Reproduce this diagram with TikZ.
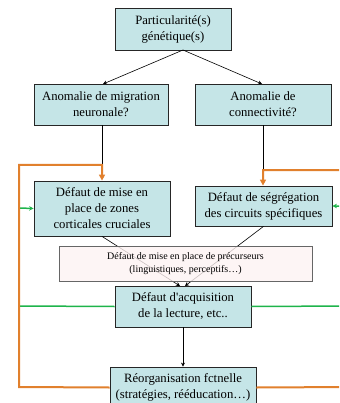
\documentclass[tikz,border=0pt]{standalone}
\usepackage{fontspec}
\setmainfont{Liberation Serif}
\usetikzlibrary{arrows.meta}
\definecolor{boxfill}{RGB}{197,229,231}
\definecolor{pinkfill}{RGB}{253,242,242}
\definecolor{orangeline}{RGB}{225,128,45}
\definecolor{greenline}{RGB}{30,180,75}
\tikzset{
  mainbox/.style={draw=black!85, line width=0.8pt, fill=boxfill, align=center,
    font=\fontsize{12.7}{16}\selectfont, inner sep=0pt},
  precbox/.style={draw=black!60, line width=0.8pt, fill=pinkfill, fill opacity=0.8, text opacity=1,
    align=center, font=\fontsize{10}{13}\selectfont, inner sep=0pt},
  blackarrow/.style={draw=black, line width=0.6pt, -{Stealth[length=4pt,width=4pt]}},
  blackline/.style={draw=black, line width=0.6pt},
  orangepath/.style={draw=orangeline, line width=2pt, -{Triangle[length=6pt,width=6pt]}},
  greenpath/.style={draw=greenline, line width=1.5pt, -{Stealth[length=4.5pt,width=4.5pt]}}
}
\begin{document}
\begin{tikzpicture}[x=1pt,y=-1pt]
\useasboundingbox (0,0) rectangle (339,403);
\clip (0,0) rectangle (339,403);
% nodes
\node[mainbox, minimum width=116pt, minimum height=42pt] (b1) at (173,29) {Particularité(s)\\génétique(s)};
\node[mainbox, minimum width=134pt, minimum height=41pt] (b2) at (101,104.5) {Anomalie de migration\\neuronale?};
\node[mainbox, minimum width=136pt, minimum height=41pt] (b3) at (263,104.5) {Anomalie de\\connectivité?};
\node[mainbox, minimum width=136pt, minimum height=55pt] (b4) at (102,208.5) {Défaut de mise en\\place de zones\\corticales cruciales};
\node[mainbox, minimum width=137pt, minimum height=40pt] (b5) at (263.5,206) {Défaut de ségrégation\\des circuits spécifiques};
\node[mainbox, minimum width=136pt, minimum height=41pt] (b7) at (183,306.5) {Défaut d\textquotesingle acquisition\\de la lecture, etc..};
\node[mainbox, minimum width=146pt, minimum height=41pt] (b8) at (183,387.5) {Réorganisation fctnelle\\(stratégies, rééducation…)};
% coordinates
\coordinate (t1) at (183,50);
\coordinate (a2) at (103,84);
\coordinate (a3) at (262,84);
\coordinate (j2) at (102,165);
\coordinate (j3) at (263,170);
\coordinate (lo1) at (19,387);
\coordinate (lo2) at (19,165);
\coordinate (ro1) at (350,387);
\coordinate (ro2) at (350,170);
\coordinate (lg1) at (19,306);
\coordinate (lg2) at (19,208);
\coordinate (rg1) at (350,306);
\coordinate (rg2) at (350,206);
\coordinate (c1) at (180,286);
\coordinate (c2) at (185,286);
% top arrows
\draw[blackarrow] (t1) -- (a2);
\draw[blackarrow] (t1) -- (a3);
\draw[blackline] (b2.south -| j2) -- (j2);
\draw[blackline] (b3.south -| j3) -- (j3);
% crossing lines
\draw[blackarrow] (b4.south) -- (c1);
\draw[blackarrow] (b5.south) -- (c2);
% precursors box over the lines
\node[precbox, minimum width=253pt, minimum height=35pt] (b6) at (185.5,263.5) {Défaut de mise en place de précurseurs\\(linguistiques, perceptifs…)};
% green feedback
\draw[greenpath] (b7.west) -- (lg1) -- (lg2) -- (b4.west);
\draw[greenpath] (b7.east) -- (rg1) -- (rg2) -- (b5.east);
% orange feedback
\draw[orangepath] (b8.west) -- (lo1) -- (lo2) -- (j2) -- (b4.north -| j2);
\draw[orangepath] (b8.east) -- (ro1) -- (ro2) -- (j3) -- (b5.north -| j3);
% vertical arrow
\draw[blackarrow] (b7.south) -- (b8.north);
\end{tikzpicture}
\end{document}
